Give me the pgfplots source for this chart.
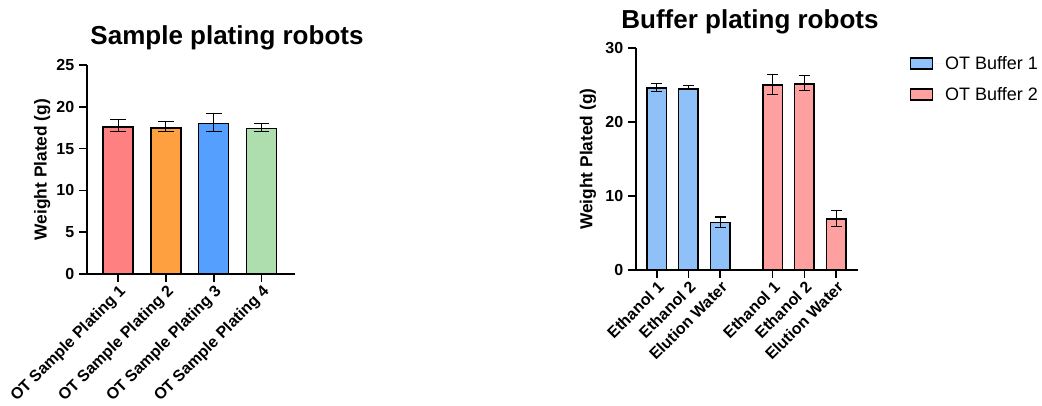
\documentclass[border=0pt]{standalone}
\usepackage{pgfplots}
\pgfplotsset{compat=1.18}
\usepackage{fontspec}
\setmainfont{Liberation Sans}

\definecolor{sRed}{RGB}{255,128,128}
\definecolor{sOrange}{RGB}{255,160,64}
\definecolor{sBlue}{RGB}{85,160,255}
\definecolor{sGreen}{RGB}{174,222,174}
\definecolor{bBlue}{RGB}{144,192,248}
\definecolor{bRed}{RGB}{255,160,160}

\pgfplotsset{
  robot/.style={
    scale only axis,
    axis x line=bottom, axis y line=left,
    axis line style={line width=1.3pt, -},
    tick style={line width=1.3pt, black},
    major tick length=6pt,
    tick align=outside,
    ymin=0,
    ybar, bar shift=0pt,
    title style={font=\fontsize{19.5}{22}\selectfont\bfseries, anchor=base, yshift=0pt},
    ylabel style={font=\fontsize{13}{15}\selectfont\bfseries, anchor=center},
    yticklabel style={font=\fontsize{12}{14}\selectfont\bfseries},
    xticklabel style={font=\fontsize{12}{14}\selectfont\bfseries, rotate=45, anchor=north east, inner sep=1pt},
    /pgf/number format/assume math mode=true,
    every axis plot/.append style={draw=black, line width=1.1pt},
    error bars/y dir=both, error bars/y explicit,
    error bars/error bar style={line width=0.8pt, black},
  },
}

\begin{document}
\begin{tikzpicture}
\useasboundingbox (0,0) rectangle (781.5pt,-303.75pt);

% left panel
\begin{axis}[robot,
  at={(65.25pt,-205.5pt)}, anchor=south west,
  width=156pt, height=156.75pt,
  xmin=-0.65, xmax=3.7, ymax=25,
  ytick={0,5,10,15,20,25},
  xtick={0,1,2,3},
  xticklabels={OT Sample Plating 1, OT Sample Plating 2, OT Sample Plating 3, OT Sample Plating 4},
  bar width=22.5pt,
  error bars/error mark options={rotate=90, mark size=5.9pt, line width=0.8pt},
  title={Sample plating robots},
  title style={at={(axis description cs:0.673,1.061)}},
  ylabel={Weight Plated (g)},
  ylabel style={at={(axis description cs:-0.216,0.5)}},
]
\addplot[fill=sRed] coordinates {(0,17.6) += (0,0.9) -= (0,0.6)};
\addplot[fill=sOrange] coordinates {(1,17.46) += (0,0.8) -= (0,0.46)};
\addplot[fill=sBlue] coordinates {(2,17.98) += (0,1.2) -= (0,0.91)};
\addplot[fill=sGreen] coordinates {(3,17.38) += (0,0.62) -= (0,0.31)};
\end{axis}

% right panel
\begin{axis}[robot,
  at={(477pt,-202.5pt)}, anchor=south west,
  width=166.3pt, height=166.3pt,
  xmin=-0.65, xmax=6.33, ymax=30,
  ytick={0,10,20,30},
  xtick={0,1,2,3.65,4.65,5.65},
  xticklabels={Ethanol 1, Ethanol 2, Elution Water, Ethanol 1, Ethanol 2, Elution Water},
  bar width=14.5pt,
  error bars/error mark options={rotate=90, mark size=4.1pt, line width=0.8pt},
  title={Buffer plating robots},
  title style={at={(axis description cs:0.514,1.055)}},
  ylabel={Weight Plated (g)},
  ylabel style={at={(axis description cs:-0.217,0.5)}},
  legend style={at={(axis description cs:1.215,0.99)}, anchor=north west, draw=none,
    font=\fontsize{13.5}{16}\selectfont, row sep=8pt},
  legend cell align=left,
  legend image code/.code={\draw[#1, line width=1.3pt] (0pt,-4.1pt) rectangle (16.5pt,4.1pt);
    \path[draw=none] (0pt,0pt) -- (24pt,0pt);},
]
\addplot[fill=bBlue] coordinates {
  (0,24.6) += (0,0.66) -= (0,0.5)
  (1,24.5) += (0,0.5) -= (0,0.1)
  (2,6.4) += (0,0.77) -= (0,0.7)
};
\addlegendentry{OT Buffer 1}
\addplot[fill=bRed] coordinates {
  (3.65,25.03) += (0,1.47) -= (0,1.23)
  (4.65,25.17) += (0,1.13) -= (0,0.87)
  (5.65,6.9) += (0,1.18) -= (0,1.04)
};
\addlegendentry{OT Buffer 2}
\end{axis}
\end{tikzpicture}
\end{document}
